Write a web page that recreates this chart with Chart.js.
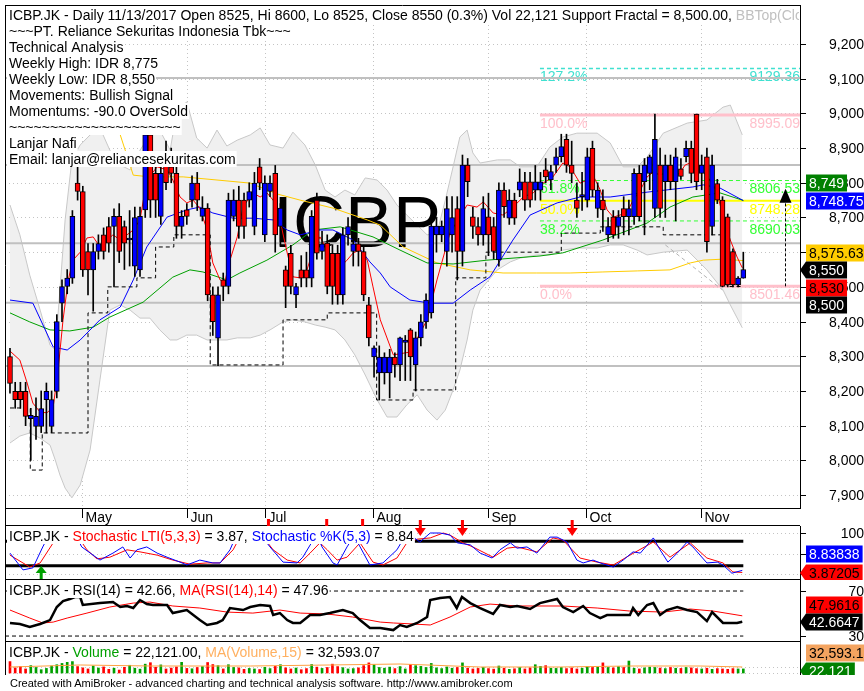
<!DOCTYPE html>
<html lang="en">
<head>
<meta charset="UTF-8">
<title>ICBP.JK Daily</title>
<script src="https://cdn.jsdelivr.net/npm/chart.js"></script>
<style>
  body { margin: 0; background: #fff; width: 864px; height: 691px; position: relative; overflow: hidden; font-family: "Liberation Sans", Arial, sans-serif; }
  canvas { position: absolute; left: 0; }
  #foot { position: absolute; left: 10px; top: 677px; font-size: 11px; color: #000; white-space: nowrap; }
</style>
</head>
<body>
<canvas id="cMain" width="864" height="526" style="top:0"></canvas>
<canvas id="cStoch" width="864" height="64" style="top:516px"></canvas>
<canvas id="cRsi" width="864" height="62" style="top:580px"></canvas>
<canvas id="cVol" width="864" height="33" style="top:642px"></canvas>
<div id="foot">Created with AmiBroker - advanced charting and technical analysis software. http://www.amibroker.com</div>

<script>
// ---------- data (bar index 0 = first bar, mid April 2017) ----------
const opens = [8299,8199,8199,8199,8120,8098,8098,8175,8098,8199, 8453,8501,8525,8799,8775,8602,8549,8602,8650,8674,
  8674,8703,8674,8635,8560,8549,8722,8938,8827,8703, 8870,8846,8827,8674,8722,8750,8799,8703,8727,8477,
  8352,8520,8501,8703,8750,8750,8750,8674,8846,8650, 8775,8827,8674,8549,8597,8477,8549,8549,8525,8750,
  8602,8626,8597,8597,8477,8650,8602,8624,8602,8448, 8298,8252,8252,8252,8298,8275,8340,8376,8275,8353,
  8399,8425,8650,8650,8602,8650,8726,8602,8851,8702, 8674,8650,8702,8674,8578,8779,8698,8750,8779,8803,
  8803,8779,8779,8837,8808,8851,8875,8925,8851,8750, 8760,8750,8899,8726,8750,8650,8702,8674,8726,8702,
  8702,8827,8803,8827,8726,8851,8803,8851,8803,8840, 8875,8899,8998,8827,8875,8674,8798,8750,8702,8602,
  8506,8525];
const highs = [8323,8225,8225,8225,8150,8180,8200,8223,8200,8420, 8520,8550,8720,8846,8790,8625,8625,8650,8670,8700,
  8725,8740,8690,8720,8730,8730,8960,8960,8850,8870, 8920,8900,8850,8720,8740,8820,8830,8760,8740,8500,
  8500,8540,8770,8780,8790,8770,8800,8830,8870,8820, 8820,8850,8740,8560,8620,8510,8590,8600,8720,8770,
  8660,8650,8620,8620,8670,8700,8640,8640,8620,8470, 8330,8330,8310,8320,8310,8355,8360,8380,8370,8420,
  8480,8690,8700,8690,8760,8760,8760,8880,8870,8730, 8700,8760,8770,8700,8800,8800,8780,8770,8840,8830,
  8830,8850,8830,8870,8850,8900,8940,8940,8920,8800, 8830,8900,8920,8800,8780,8700,8720,8720,8760,8750,
  8840,8850,8870,8880,8998,8900,8880,8880,8900,8870, 8920,8920,8998,8880,8900,8880,8810,8760,8710,8610,
  8530,8600];
const lows = [8194,8150,8150,8100,8000,8060,8080,8079,8080,8180, 8400,8480,8510,8750,8530,8477,8430,8580,8580,8600,
  8500,8570,8550,8560,8530,8530,8700,8700,8700,8680, 8780,8800,8640,8640,8680,8730,8720,8690,8460,8360,
  8273,8460,8480,8690,8640,8640,8730,8650,8780,8630, 8760,8600,8620,8440,8480,8440,8500,8500,8500,8580,
  8580,8480,8450,8450,8450,8620,8560,8560,8460,8330, 8240,8174,8220,8180,8240,8230,8230,8230,8200,8330,
  8380,8410,8600,8630,8560,8600,8520,8560,8760,8640, 8620,8620,8590,8580,8560,8700,8680,8680,8760,8720,
  8730,8750,8750,8800,8780,8830,8860,8830,8800,8700, 8720,8730,8760,8700,8660,8630,8640,8640,8650,8650,
  8680,8690,8650,8780,8700,8700,8700,8780,8690,8810, 8860,8800,8780,8780,8600,8650,8740,8500,8500,8500,
  8500,8525];
const closes = [8222,8175,8175,8127,8130,8127,8149,8199,8175,8400, 8501,8525,8703,8775,8549,8549,8602,8625,8602,8626,
  8703,8602,8626,8640,8700,8703,8938,8750,8750,8827, 8800,8827,8674,8703,8703,8799,8750,8727,8477,8400,
  8477,8501,8750,8750,8674,8674,8775,8799,8799,8799, 8799,8650,8727,8501,8501,8501,8525,8525,8703,8597,
  8624,8501,8501,8477,8650,8674,8624,8602,8477,8353, 8324,8298,8298,8298,8275,8353,8347,8298,8353,8399,
  8462,8675,8675,8675,8726,8700,8602,8851,8803,8674, 8650,8726,8650,8602,8779,8731,8750,8698,8803,8750,
  8750,8803,8803,8817,8832,8875,8904,8851,8827,8726, 8765,8875,8779,8779,8722,8674,8650,8702,8702,8726,
  8827,8702,8851,8875,8925,8726,8851,8803,8875,8818, 8899,8827,8803,8851,8630,8851,8750,8501,8506,8506,
  8525,8550];
const volumes = [62000,28000,35000,22000,40000,30000,18000,25000,38000,45000, 52000,58000,62000,35000,28000,22000,38000,27000,33000,20000,
  26000,16000,31000,42000,26000,21000,48000,56000,31000,44000, 22000,27000,33000,58000,25000,23000,30000,35000,57000,46000,
  40000,22000,45000,30000,28000,20000,25000,22000,19000,31000, 24000,36000,45000,28000,22000,27000,18000,24000,46000,32000,
  25000,30000,48000,35000,29000,22000,24000,28000,40000,55000, 45000,30000,26000,32000,24000,35000,22000,46000,40000,36000,
  30000,52000,28000,24000,33000,26000,30000,55000,27000,22000, 25000,30000,24000,21000,38000,26000,20000,23000,30000,22000,
  28000,45000,36000,40000,26000,25000,30000,24000,28000,22000, 26000,35000,30000,32000,55000,30000,28000,35000,30000,65000,
  26000,22000,28000,32000,30000,27000,24000,30000,26000,25000, 30000,28000,24000,22000,26000,20000,24000,22000,20000,24000,
  22000,22121];

// moving averages: [bar index, value]
const maFastK = [0,1.9,3.3,4.4,5.8,7.1,8.3,9.2,10.2,11.2,12.1,13.5,14.8,16,17.3,18.7,19.8,21.2,22.5,23.7,25,26.3,28.3,30.2,31.3,32.7,34,35.2,36.5,37.9,39,40.4,41.3,42.3,43.7,44.8,46.7,48.1,49.4,50.6,51.9,53.3,54.4,55.8,57.1,58.3,59.6,61,62.1,63.5,64.8,66,67.3,68.7,69.8,71.2,73.7,76.9,80.2,82.1,84.6,87.9,89.8,91,92.9,94.8,96.7,98.7,100.6,102.5,104.4,106.3,107.7,109.6,111,112.1,113.5,114.8,116,117.3,118.7,119.8,121.2,122.5,123.7,125,126.3,127.5,128.8,129.8,131.2,132.1,133.3,134.6,136,137.1,138.5,139.8,140.8];
const maFastV = [8315,8289,8223,8165,8139,8137,8154,8252,8405,8520,8577,8600,8641,8644,8615,8635,8650,8635,8650,8664,8693,8808,8846,8837,8808,8759,8742,8750,8727,8664,8569,8520,8514,8577,8644,8730,8771,8759,8771,8750,8693,8598,8529,8526,8549,8606,8644,8606,8569,8557,8577,8598,8606,8577,8500,8405,8304,8312,8405,8520,8655,8736,8730,8745,8713,8707,8730,8759,8771,8799,8817,8857,8846,8799,8808,8822,8779,8722,8701,8707,8716,8750,8779,8817,8831,8822,8831,8817,8828,8851,8860,8846,8831,8808,8771,8701,8635,8586,8555];
const maBlueK = [0,4.4,8.3,11,13.5,17.3,21.2,23.7,26.3,30.2,34,36.5,39,42.9,46.7,50.6,53.3,55.8,59.6,62.1,66,69.2,71.2,73.1,76.9,80.8,85.2,88.5,92.3,96.7,100,105.2,109.6,115.4,122.5,131.3,133.3,136.5,141];
const maBlueV = [8462,8453,8327,8318,8347,8405,8442,8520,8615,8701,8722,8730,8713,8698,8698,8693,8664,8650,8664,8664,8635,8572,8540,8500,8462,8453,8453,8491,8529,8635,8707,8742,8759,8759,8773,8788,8794,8785,8748.75];
const maGreenK = [0,3.8,7.7,11.5,16,19.2,25.6,31.3,34.6,37.1,41.7,44.2,49.4,54.4,58.3,63.5,69.8,75,80.2,85.2,91.7,101.9,106.3,114,122.5,126.9,131.3,136.5,141];
const maGreenV = [8425,8399,8376,8373,8384,8413,8456,8528,8549,8543,8520,8540,8577,8621,8664,8673,8644,8606,8569,8566,8577,8589,8598,8635,8684,8730,8759,8771,8749];
const maGoldK = [20.2,21.2,23.7,26.9,33.3,39.8,46.2,51.3,55.8,62.1,68.7,71.2,75.6,82.1,88.5,94.8,101.3,107.7,114,120.6,126.9,130.8,133.3,137.1,141];
const maGoldV = [8981,8938,8822,8817,8817,8808,8799,8768,8750,8727,8693,8678,8615,8569,8549,8540,8540,8540,8543,8546,8549,8569,8577,8580,8575.63];

// Bollinger bands
const bbK = [0,1.9,3.8,5.8,7.7,8.7,9.6,10.6,11.9,13.5,15.4,17.3,19.2,21.2,23.1,25,26.9,28.8,30.8,32.1,34,35.9,37.9,39.8,41.7,43.7,46.2,48.1,50,52.5,54.4,56.7,58.7,60.6,62.5,64.4,66.3,68.3,70.6,72.5,74.4,76.3,78.3,80.2,82.1,83.7,85.2,86.5,87.9,89,90.4,93.7,96.2,98.1,101.3,103.8,106.3,109,112.9,115.4,117.9,120.6,122.5,125.6,130.2,134,137.1,138.5,140.8];
const bbUp = [8736,8650,8534,8433,8332,8318,8491,8693,8866,8909,8938,8958,8894,8851,8837,8894,8938,8952,8894,9010,9033,8929,8900,8952,8906,8923,8938,8958,8909,8900,8946,8909,8851,8779,8759,8779,8765,8814,8808,8779,8736,8707,8678,8650,8655,8750,8846,8932,8952,8886,8857,8866,8866,8846,8846,8903,8932,8943,8943,8915,8846,8846,8874,8943,8972,8981,9018,9024,8938];
const bbLo = [8050,8070,8079,8064,8044,8001,7958,7920,7892,7929,8030,8232,8433,8448,8433,8410,8410,8376,8347,8347,8361,8361,8347,8347,8347,8353,8353,8361,8376,8399,8405,8399,8390,8384,8376,8347,8304,8246,8174,8125,8125,8160,8189,8145,8116,8145,8203,8260,8347,8433,8491,8549,8572,8583,8592,8592,8606,8612,8612,8621,8621,8606,8592,8600,8606,8549,8491,8448,8382];

// support fractal steps, resistance lines, trend line
const supK = [0,3.9,6.2,15,18.8,24.4,28,31.5,38.5,52.5,61,70.5,77.5,85.7,91.5,106,113.5,125.6,137.9,141];
const supV = [8151,7972,8079,8425,8500,8526,8615,8650,8275,8405,8425,8174,8203,8526,8600,8655,8673,8650,8501,8501];
const levelLines = [9102, 8851, 8626, 8454, 8272];
const trendK = [126, 137], trendV = [8621, 8491];

// fibonacci retracement
const fibStartK = 101.9;
const fibPct = ['127.2%','100.0%','61.8%','50.0%','38.2%','0.0%'];
const fibVal = [9129.36, 8995.09, 8806.53, 8748.28, 8690.03, 8501.46];
const arrowK = 149, arrowFrom = 8501.46, arrowTo = 8748.28;

// month starts and price ticks
const monthNames = ['May','Jun','Jul','Aug','Sep','Oct','Nov'];
const monthK = [13.8, 34, 49, 69.8, 91.9, 110.8, 132.9];
const priceTicks = [7900,8000,8100,8200,8300,8400,8500,8600,8700,8800,8900,9000,9100,9200];

// stochastic
const stoKK = [0,2.5,4.4,6.3,7.7,9.6,11.5,13.1,13.8,17.3,19.8,21.7,23.1,24.4,26.3,28.3,30.2,32.7,34,36.5,39,40.4,42.3,43.7,45.2,47.1,48.5,50,52.5,55.2,56.3,58.3,59.2,60,62.1,62.9,64.8,66,66.9,69.2,71.7,74.4,76.3,78.3,78.8,80.8,82.7,84.6,86,88.5,90.4,92.7,94.2,96.2,97.5,99.4,101.3,103.8,105.2,107.1,109,110.2,112.1,113.5,116,117.9,119.8,121.2,123.7,125,126.5,128.3,130.2,131.3,134,136,137.1,138.8,140.8];
const stoKV = [51,10,15,66,100,100,100,83,66,34,51,66,39,59,66,51,41,29,22,34,27,27,59,100,100,100,90,66,29,27,41,83,90,66,27,22,66,90,76,22,27,59,100,83,78,100,100,95,76,71,51,39,59,76,63,66,51,90,90,78,34,27,34,27,17,34,54,51,88,59,29,51,78,66,27,29,22,2,8.84];
const stoLK = [0,3.8,5.8,8.3,9.6,11.5,13.5,14.8,16.7,19.2,22.5,25,28.3,31.3,34.6,37.9,40.4,42.9,44.2,46.2,48.1,50.6,53.3,55.8,57.7,59.6,61,62.9,64.8,67.3,69.8,71.7,74.4,76.3,78.3,80.8,83.3,84.6,87.1,89,92.9,95.6,97.5,101.3,104.4,106.3,109.6,112.9,116,119.2,123.7,126.9,130.8,134,137.1,139,140.8];
const stoLV = [46,17,27,76,100,100,83,59,37,41,59,54,46,34,24,27,27,59,90,100,100,59,34,27,51,76,59,34,41,76,29,22,39,76,85,88,100,95,76,66,41,63,66,54,88,83,39,29,22,46,78,41,76,39,27,5,3.87];
const stoBuyK = [5.9];
const stoSellK = [78.8, 86.9, 108];
const stoStubK = [49.6, 60.8, 67.7];

// RSI
const rsiK = [0,1.9,3.8,5.8,7.7,9,10.2,11.5,12.5,13.5,14,17.3,19.8,21.2,22.5,23.7,25,26.3,27.5,30.2,31.3,34,36.5,37.9,39.8,40.9,42.3,44.8,46.2,48.1,50,50.6,51.9,53.3,54.4,55.8,57.7,59.6,61.5,64,65.9,67.3,69.2,71.2,73.7,75,76.3,78.3,80.2,80.8,82.7,84.6,85.9,86.9,88.5,90.4,92.9,94.2,96.2,97.5,100,101.9,105.2,106.3,108.3,110.2,111.5,113.5,114.8,116.7,119.2,119.8,120.8,122.5,123.7,125,126.3,128.3,130.2,132.1,134,135,137.1,139.8,140.8];
const rsiV = [41.6,40.7,38,40.7,44.2,55.8,61.1,62.9,64.7,64.7,57.6,59.3,60.2,55.8,56.7,54.9,62,58.4,57.6,57.6,50.4,53.1,44.2,39.8,41.6,44.2,54.9,53.1,55.8,57.6,56.7,48.7,50.4,44.2,41.6,41.6,48.7,48.7,50.4,53.1,50.4,44.2,37.1,37.1,35.3,39.8,38,41.6,46.9,62,63.8,64.7,54.9,64.7,59.3,54.9,49.6,57.6,55.8,56.7,54,59.3,62.9,55.8,51.3,56.7,50.4,46,48.7,48.7,48.7,54.9,48.7,57.6,59.3,48.7,53.1,55.8,53.1,51.3,43.3,51.3,41.6,41.6,42.66];
const rsiMaK = [0,3.8,6.3,8.3,11,14.8,19.2,23.7,26.9,31.3,36.5,41.7,46.7,51.9,55.8,60.9,65.9,71.2,73.7,77.5,80.8,84.6,88.5,92.3,97.5,101.9,106.3,112.9,119.2,125.6,130.8,135.2,140.8];
const rsiMaV = [53.1,46,41.6,42.4,46,50.4,55.8,59.3,60.2,56.7,54.9,51.3,50.4,53.1,50.4,49.6,46.9,42.4,41.6,40.7,39.8,46.9,55.8,58.4,56.7,56.7,56.7,54.9,52.2,51.3,54,52.2,47.96];

// volume moving average
const volMaK = [0,13.5,26.9,46.2,61.5,75,90.4,105.8,119.2,132.7,140.8];
const volMaV = [32600,43500,38000,38000,43500,48900,32600,32600,38000,38000,32593.07];

// ---------- helpers ----------
const X_MIN = -0.96, X_MAX = 151.9;
const FONT = '"Liberation Sans", Arial, sans-serif';
const zip = (ks, vs) => ks.map((k, i) => ({x: k, y: vs[i]}));
const flat = (v, k0, k1) => [{x: k0, y: v}, {x: k1, y: v}];
const fmt = v => v.toLocaleString('en-US');
const isUp = i => closes[i] >= opens[i];

function line(data, color, extra) {
  return Object.assign({type: 'line', data, borderColor: color, borderWidth: 1, pointRadius: 0, fill: false, tension: 0}, extra || {});
}

function textRow(ctx, parts, x, yc, clipRight) {
  ctx.save();
  ctx.font = '14px ' + FONT;
  ctx.textBaseline = 'middle';
  let w = 0;
  parts.forEach(p => w += ctx.measureText(p[0]).width);
  if (clipRight) { ctx.beginPath(); ctx.rect(0, 0, clipRight, 2000); ctx.clip(); }
  ctx.fillStyle = '#fff';
  ctx.fillRect(x - 2, yc - 8, w + 3, 16);
  let cx = x;
  parts.forEach(p => { ctx.fillStyle = p[1]; ctx.fillText(p[0], cx, yc + 1); cx += ctx.measureText(p[0]).width; });
  ctx.restore();
}

function tag(ctx, yc, text, bg, fg, arrow) {
  ctx.save();
  ctx.font = '14px ' + FONT;
  const tw = ctx.measureText(text).width;
  const x0 = 806, h = 17;
  ctx.fillStyle = bg;
  ctx.fillRect(x0, yc - h / 2, tw + 6, h);
  if (arrow) {
    ctx.beginPath(); ctx.moveTo(800, yc); ctx.lineTo(x0, yc - h / 2); ctx.lineTo(x0, yc + h / 2); ctx.closePath(); ctx.fill();
  }
  ctx.fillStyle = fg; ctx.textBaseline = 'middle'; ctx.textAlign = 'left';
  ctx.fillText(text, x0 + 3, yc + 1);
  ctx.restore();
}

function axisLabels(chart, vals, labels) {
  const {ctx, scales: {y}} = chart;
  ctx.save();
  ctx.font = '14px ' + FONT; ctx.fillStyle = '#000'; ctx.textAlign = 'right'; ctx.textBaseline = 'middle';
  ctx.strokeStyle = '#000'; ctx.lineWidth = 1;
  vals.forEach((v, i) => {
    const py = Math.round(y.getPixelForValue(v)) + 0.5;
    ctx.beginPath(); ctx.moveTo(800, py); ctx.lineTo(806, py); ctx.stroke();
    ctx.fillText(labels[i], 864, py + 1);
  });
  ctx.restore();
}

function dotted(chart, vals, ks) {
  const {ctx, chartArea: a, scales: {x, y}} = chart;
  ctx.save();
  ctx.strokeStyle = '#c4c4c4'; ctx.lineWidth = 1; ctx.setLineDash([1, 3]);
  vals.forEach(v => { const py = Math.round(y.getPixelForValue(v)) + 0.5; ctx.beginPath(); ctx.moveTo(a.left, py); ctx.lineTo(a.right, py); ctx.stroke(); });
  (ks || []).forEach(k => { const px = Math.round(x.getPixelForValue(k)) + 0.5; ctx.beginPath(); ctx.moveTo(px, a.top); ctx.lineTo(px, a.bottom); ctx.stroke(); });
  ctx.restore();
}

function frame(ctx, x0, x1, ys, yTop, yBot) {
  ctx.save();
  ctx.strokeStyle = '#000'; ctx.lineWidth = 1;
  ys.forEach(yy => { ctx.beginPath(); ctx.moveTo(x0, yy + 0.5); ctx.lineTo(x1, yy + 0.5); ctx.stroke(); });
  ctx.beginPath(); ctx.moveTo(x0 + 0.5, yTop); ctx.lineTo(x0 + 0.5, yBot); ctx.stroke();
  ctx.restore();
}

function baseOptions(yMin, yMax, pad) {
  return {
    responsive: false, animation: false,
    layout: {padding: Object.assign({left: 5, right: 0, top: 0, bottom: 0}, pad)},
    plugins: {legend: {display: false}, tooltip: {enabled: false}},
    scales: {
      x: {type: 'linear', min: X_MIN, max: X_MAX, offset: false, display: false},
      y: {position: 'right', min: yMin, max: yMax, grid: {display: false}, ticks: {display: false},
          border: {display: true, color: '#000', width: 1}, afterFit(s) { s.width = 64; }}
    }
  };
}

// ---------- main price panel ----------
const fibColor = ['#40e0d0', '#ffc0cb', '#33ff33', '#ffff00', '#33ff33', '#ffc0cb'];
const fibDash  = [[4, 3], [], [4, 3], [], [4, 3], []];
const fibWidth = [1.5, 3, 1, 2, 1, 3];

const mainSets = [
  line(zip(bbK, bbUp), '#c8c8c8', {tag: 'bbUp', order: 18}),
  line(zip(bbK, bbLo), '#c8c8c8', {tag: 'bbLo', fill: '-1', backgroundColor: '#f0f0f0', order: 19})
];
levelLines.forEach(v => mainSets.push(line(flat(v, X_MIN, X_MAX), '#c0c0c0', {borderWidth: 2, order: 16})));
fibVal.forEach((v, i) => mainSets.push(line(flat(v, fibStartK, X_MAX), fibColor[i], {borderWidth: fibWidth[i], borderDash: fibDash[i], order: 15})));
mainSets.push(line(zip(trendK, trendV), '#b4b4b4', {borderDash: [4, 3], order: 14}));
mainSets.push(line(zip(maGoldK, maGoldV), '#ffcc00', {order: 10}));
mainSets.push(line(zip(maGreenK, maGreenV), '#00a000', {order: 9}));
mainSets.push(line(zip(maBlueK, maBlueV), '#0000ff', {order: 8}));
mainSets.push(line(zip(supK, supV), '#000', {stepped: true, borderDash: [4, 3], order: 7}));
mainSets.push(line(zip(maFastK, maFastV), '#ff0000', {order: 3}));
mainSets.push({type: 'bar', grouped: false, order: 2, barThickness: 1, backgroundColor: '#000', borderWidth: 0,
  data: closes.map((c, i) => ({x: i, y: [lows[i], highs[i]]}))});
mainSets.push({type: 'bar', grouped: false, order: 1, barThickness: 5, minBarLength: 2, borderColor: '#000', borderWidth: 1, borderSkipped: false,
  backgroundColor: closes.map((c, i) => isUp(i) ? '#0000ff' : '#ff0000'),
  data: closes.map((c, i) => ({x: i, y: [opens[i], c]}))});

const leftLines = ['~~~PT. Reliance Sekuritas Indonesia Tbk~~~', 'Technical Analysis', 'Weekly High: IDR 8,775',
  'Weekly Low: IDR 8,550', 'Movements: Bullish Signal', 'Momentums: -90.0 OverSold',
  '~~~~~~~~~~~~~~~~~~~~~', 'Lanjar Nafi', 'Email: lanjar@reliancesekuritas.com'];

const mainDeco = {
  id: 'mainDeco',
  beforeDatasetsDraw(chart) {
    dotted(chart, priceTicks, monthK);
  },
  afterDatasetDraw(chart, args) {
    if (chart.data.datasets[args.index].tag !== 'bbUp') return;
    const {ctx, scales: {x, y}} = chart;
    // ticker watermark, above the band cloud
    ctx.save();
    ctx.fillStyle = '#000'; ctx.textAlign = 'right'; ctx.textBaseline = 'alphabetic';
    ctx.font = '72px ' + FONT; ctx.fillText('ICBP', 441, 247);
    ctx.restore();
    const x0 = x.getPixelForValue(fibStartK);
    ctx.save();
    ctx.font = '14px ' + FONT; ctx.textBaseline = 'top';
    fibVal.forEach((v, i) => {
      const py = y.getPixelForValue(v) + 2;
      ctx.fillStyle = fibColor[i];
      ctx.textAlign = 'left'; ctx.fillText(fibPct[i], x0, py);
      ctx.textAlign = 'right'; ctx.fillText(v.toFixed(2), 800, py);
    });
    ctx.restore();
  },
  afterDraw(chart) {
    const {ctx, scales: {x, y}} = chart;
    // up arrow from the 0% level to the 50% level
    const ax = Math.round(x.getPixelForValue(arrowK)) + 0.5;
    const y0 = y.getPixelForValue(arrowFrom), y1 = y.getPixelForValue(arrowTo);
    ctx.save();
    ctx.strokeStyle = '#000'; ctx.setLineDash([3, 2]);
    ctx.beginPath(); ctx.moveTo(ax, y0); ctx.lineTo(ax, y1); ctx.stroke();
    ctx.setLineDash([]); ctx.fillStyle = '#000';
    ctx.beginPath(); ctx.moveTo(ax, y1 - 12); ctx.lineTo(ax - 6, y1 + 2); ctx.lineTo(ax + 6, y1 + 2); ctx.closePath(); ctx.fill();
    ctx.restore();
    // texts
    textRow(ctx, [['ICBP.JK - Daily 11/13/2017 Open 8525, Hi 8600, Lo 8525, Close 8550 (0.3%) Vol 22,121 Support Fractal = 8,500.00, ', '#000'],
                  ['BBTop(Close,20,2) = 9,040.36', '#c0c0c0']], 9, 15, 799);
    leftLines.forEach((t, i) => textRow(ctx, [[t, '#000']], 9, 31 + i * 16));
    // axis
    axisLabels(chart, priceTicks, priceTicks.map(fmt));
    tag(ctx, 183, '8,749', '#008000', '#fff');
    tag(ctx, 201, '8,748.75', '#0000ff', '#fff');
    tag(ctx, 253, '8,575.63', '#ffcc00', '#000');
    tag(ctx, 270, '8,550', '#000', '#fff', true);
    tag(ctx, 288, '8,530', '#ff0000', '#000');
    tag(ctx, 305, '8,500', '#000', '#fff');
    // month row
    ctx.save();
    ctx.font = '14px ' + FONT; ctx.fillStyle = '#000'; ctx.textBaseline = 'middle'; ctx.strokeStyle = '#000';
    monthK.forEach((k, i) => {
      const px = Math.round(x.getPixelForValue(k)) + 0.5;
      ctx.beginPath(); ctx.moveTo(px, 509); ctx.lineTo(px, 518); ctx.stroke();
      ctx.fillText(monthNames[i], px + 3, 518);
    });
    ctx.restore();
    frame(ctx, 5, 800, [5, 508, 525], 5, 526);
  }
};

new Chart(document.getElementById('cMain'), {
  type: 'bar',
  data: {datasets: mainSets},
  options: baseOptions(7862.7, 9312.4, {top: 5, bottom: 18}),
  plugins: [mainDeco]
});

// ---------- stochastic panel ----------
new Chart(document.getElementById('cStoch'), {
  type: 'line',
  data: {datasets: [
    line(flat(80, X_MIN, 141), '#000', {borderWidth: 3, order: 5}),
    line(flat(20, X_MIN, 141), '#000', {borderWidth: 3, order: 5}),
    line(zip(stoLK, stoLV), '#ff0000', {order: 2}),
    line(zip(stoKK, stoKV), '#0000ff', {order: 1})
  ]},
  options: baseOptions(-14.6, 117.1, {top: 10}),
  plugins: [{
    id: 'stoDeco',
    beforeDatasetsDraw(chart) { dotted(chart, [0, 50, 100]); },
    afterDraw(chart) {
      const {ctx, scales: {x, y}} = chart;
      ctx.save();
      stoSellK.forEach(k => {
        const px = x.getPixelForValue(k);
        ctx.fillStyle = '#ff0000';
        ctx.fillRect(px - 1, 4, 3, 9);
        ctx.beginPath(); ctx.moveTo(px - 5, 12); ctx.lineTo(px + 6, 12); ctx.lineTo(px + 0.5, 20); ctx.closePath(); ctx.fill();
      });
      stoStubK.forEach(k => { ctx.fillStyle = '#ff0000'; ctx.fillRect(x.getPixelForValue(k) - 1, 3, 3, 7); });
      stoBuyK.forEach(k => {
        const px = x.getPixelForValue(k);
        ctx.fillStyle = '#00a000';
        ctx.fillRect(px - 1, 56, 3, 9);
        ctx.beginPath(); ctx.moveTo(px - 5, 57); ctx.lineTo(px + 6, 57); ctx.lineTo(px + 0.5, 50); ctx.closePath(); ctx.fill();
      });
      ctx.restore();
      textRow(ctx, [['ICBP.JK - ', '#000'], ['Stochastic LTI(5,3,3)', '#ff0000'], [' = 3.87, ', '#000'],
                    ['Stochastic %K(5,3)', '#0000ff'], [' = 8.84', '#000']], 9, 20);
      axisLabels(chart, [100, 50, 0], ['100', '', '']);
      tag(ctx, 38, '8.83838', '#0000ff', '#fff');
      tag(ctx, 57, '3.87205', '#ff0000', '#000', true);
      frame(ctx, 5, 800, [63], 10, 64);
    }
  }]
});

// ---------- RSI panel ----------
new Chart(document.getElementById('cRsi'), {
  type: 'line',
  data: {datasets: [
    line(flat(70, X_MIN, 141), '#000', {borderDash: [4, 3], order: 5}),
    line(flat(30, X_MIN, 141), '#000', {borderDash: [4, 3], order: 5}),
    line(zip(rsiMaK, rsiMaV), '#ff0000', {order: 2}),
    line(zip(rsiK, rsiV), '#000', {borderWidth: 2.5, order: 1})
  ]},
  options: baseOptions(24.7, 79.8, {}),
  plugins: [{
    id: 'rsiDeco',
    afterDraw(chart) {
      const ctx = chart.ctx;
      textRow(ctx, [['ICBP.JK - RSI(14) = 42.66, ', '#000'], ['MA(RSI(14),14)', '#ff0000'], [' = 47.96', '#000']], 9, 10);
      axisLabels(chart, [70, 30], ['70', '30']);
      tag(chart.ctx, 25, '47.9616', '#ff0000', '#000');
      tag(chart.ctx, 42, '42.6647', '#000', '#fff', true);
      frame(ctx, 5, 800, [61], 0, 62);
    }
  }]
});

// ---------- volume panel ----------
new Chart(document.getElementById('cVol'), {
  type: 'bar',
  data: {datasets: [
    line(zip(volMaK, volMaV), '#ffa040', {order: 1}),
    {type: 'bar', grouped: false, order: 2, barThickness: 2,
     backgroundColor: volumes.map((v, i) => isUp(i) ? '#00a000' : '#ff0000'),
     data: volumes.map((v, i) => ({x: i, y: v}))}
  ]},
  options: baseOptions(-10864, 168392, {}),
  plugins: [{
    id: 'volDeco',
    beforeDatasetsDraw(chart) { dotted(chart, [32593.07, 0]); },
    afterDraw(chart) {
      const ctx = chart.ctx;
      textRow(ctx, [['ICBP.JK - ', '#000'], ['Volume', '#00a000'], [' = 22,121.00, ', '#000'],
                    ['MA(Volume,15)', '#ffb060'], [' = 32,593.07', '#000']], 9, 10);
      tag(ctx, 11, '32,593.1', '#f4a460', '#000');
      tag(ctx, 29, '22,121', '#008000', '#fff', true);
      frame(ctx, 5, 800, [], 0, 33);
    }
  }]
});
</script>
</body>
</html>
